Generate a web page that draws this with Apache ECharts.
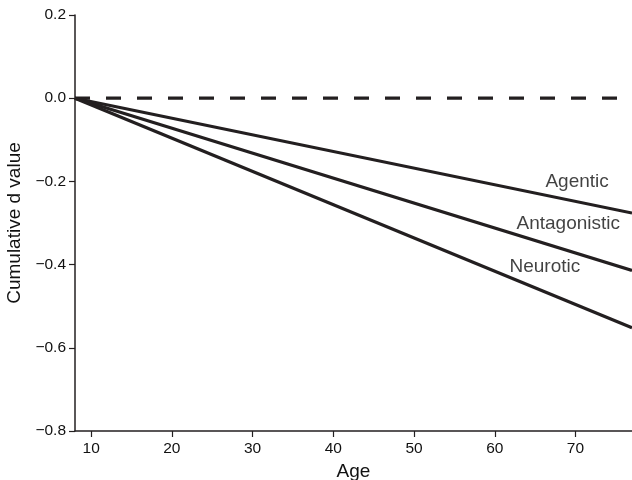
<!DOCTYPE html>
<html>
<head>
<meta charset="utf-8">
<script src="https://cdn.jsdelivr.net/npm/echarts@6/dist/echarts.min.js"></script>
<style>html,body{margin:0;padding:0;background:#fff}#c{width:632px;height:480px}</style>
</head>
<body>
<div id="c"></div>
<script>
const ages = [8, 77];
const agentic = [0, -0.276];
const antagonistic = [0, -0.414];
const neurotic = [0, -0.552];
const reference = [0, 0];
const xTicks = [10, 20, 30, 40, 50, 60, 70];
const labelNames = ['Agentic', 'Antagonistic', 'Neurotic'];
const labelAt = [[70.2, -0.202], [69.1, -0.303], [66.2, -0.406]];

const ink = '#231f20';
const textInk = '#111111';
const font = 'Liberation Sans, Arial, Helvetica, sans-serif';
const chart = echarts.init(document.getElementById('c'));
function pairs(xs, ys){ return xs.map((x,i)=>[x, ys[i]]); }
const lineSeries = (name, ys) => ({
  name, type:'line', data:pairs(ages, ys), symbol:'none', silent:true,
  lineStyle:{color:ink, width:3.2}, z:3
});
chart.setOption({
  animation:false,
  grid:{left:75, right:0, top:15, bottom:49, containLabel:false, outerBoundsMode:'none'},
  xAxis:{
    type:'value', min:8, max:77,
    name:'Age', nameLocation:'middle', nameGap:28,
    nameTextStyle:{fontFamily:font, fontSize:19, color:textInk},
    axisLine:{show:true, onZero:false, lineStyle:{color:ink, width:1.5}},
    axisTick:{show:true, customValues:xTicks, length:6, lineStyle:{color:ink, width:1.2}},
    axisLabel:{customValues:xTicks, fontFamily:font, fontSize:15.5, color:textInk, margin:10},
    splitLine:{show:false}
  },
  yAxis:{
    type:'value', min:-0.8, max:0.2, interval:0.2,
    name:'Cumulative d value', nameLocation:'middle', nameGap:43,
    nameTextStyle:{fontFamily:font, fontSize:19, color:textInk},
    axisLine:{show:true, onZero:false, lineStyle:{color:ink, width:1.5}},
    axisTick:{show:true, length:6, lineStyle:{color:ink, width:1.2}},
    axisLabel:{fontFamily:font, fontSize:15.5, color:textInk, margin:9,
      formatter:v=>{const s=Math.abs(v)<1e-9?'0.0':v.toFixed(1);return s.replace('-','\u2212');}},
    splitLine:{show:false}
  },
  series:[
    {name:'ref', type:'line', data:pairs(ages, reference), symbol:'none', silent:true,
     lineStyle:{color:ink, width:3.2, type:[15,16]}, z:2},
    lineSeries('Agentic', agentic),
    lineSeries('Antagonistic', antagonistic),
    lineSeries('Neurotic', neurotic),
    {name:'labels', type:'scatter', data:labelAt.map((p,i)=>({value:p, name:labelNames[i]})),
     symbolSize:1, itemStyle:{color:'rgba(0,0,0,0)'}, silent:true,
     label:{show:true, position:'inside', formatter:p=>p.name, fontFamily:font, fontSize:19,
       color:textInk, textBorderWidth:0, textBorderColor:'transparent'}}
  ]
});
</script>
</body>
</html>
